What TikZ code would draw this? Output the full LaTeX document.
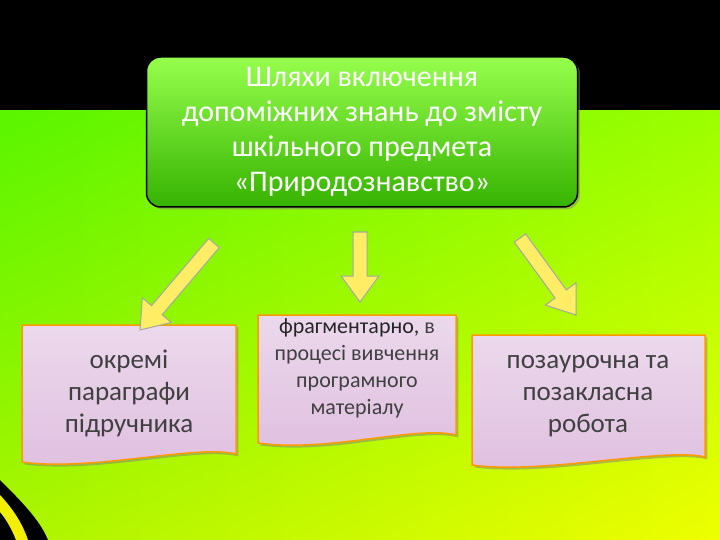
\documentclass[tikz,border=0pt]{standalone}
\usepackage{fontspec}
\setmainfont{Carlito}
\usetikzlibrary{shadows,calc}
\definecolor{boxtxt}{HTML}{404040}
\tikzset{
 docbox/.style={draw=orange!80!yellow, line width=1.5pt, top color=white!85!violet, bottom color=violet!25!white},
 barrow/.style={draw=gray!70, line width=1pt, fill=yellow!85!orange!60!white},
 boxtext/.style={text=boxtxt, align=center, font=\fontsize{27}{32}\selectfont}
}
\begin{document}
\begin{tikzpicture}[x=1pt,y=-1pt]
\useasboundingbox (0,0) rectangle (720,540);
\shade[left color=green!55!lime!90!black, right color=yellow!80!lime] (0,100) rectangle (720,540);
\shade[top color=green!50!lime, bottom color=yellow!70!lime, opacity=0.6] (0,100) rectangle (720,540);
\fill[black] (0,0) rectangle (720,110);
\fill[black] (0,480) .. controls (20,500) and (40,520) .. (48,540) -- (0,540) -- cycle;
\fill[yellow!80!lime] (0,495) .. controls (12,508) and (22,522) .. (28,540) -- (16,540) .. controls (11,527) and (5,518) .. (0,512) -- cycle;
% title
\node[draw=black, line width=1.5pt, rounded corners=14pt, minimum width=431pt, minimum height=150pt,
 top color=green!45!lime!70!white, bottom color=green!60!lime!70!black, drop shadow, text=white,
 align=center, font=\fontsize{30}{35}\selectfont] (title) at (362,132)
 {Шляхи включення\\допоміжних знань до змісту\\шкільного предмета\\«Природознавство»};
% boxes
\newcommand{\docpath}[4]{% x1 y1 x2 y2
 \path[docbox,drop shadow] (#1,#2) -- (#3,#2) -- (#3,#4-8) .. controls (#3-40,#4-18) and (#1+70,#4+10) .. (#1,#4) -- cycle;}
\docpath{22}{325}{236}{462}
\docpath{258}{315}{456}{443}
\docpath{472}{335}{705}{465}
\node[boxtext] (b1) at (129,393) {окремі\\параграфи\\підручника};
\node[text=boxtxt, align=center, font=\fontsize{22}{27}\selectfont] (b2) at (357,368)
 {\textcolor{black!85}{фрагментарно,} в\\процесі вивчення\\програмного\\матеріалу};
\node[boxtext] (b3) at (588,396) {позаурочна та\\позакласна\\робота};
% arrows
\coordinate (a1s) at (214,243); \coordinate (a1e) at (140,330);
\coordinate (a2s) at (360,232); \coordinate (a2e) at (360,302);
\coordinate (a3s) at (520,238); \coordinate (a3e) at (576,315);
\foreach \s/\e in {a1s/a1e,a2s/a2e,a3s/a3e}{
 \path[barrow] let \p1=($(\e)-(\s)$), \n1={atan2(\y1,\x1)}, \n2={veclen(\x1,\y1)} in
  [shift={(\s)}, rotate=\n1]
  (0pt,7pt) -- (\n2-26pt,7pt) -- (\n2-26pt,19pt) -- (\n2,0pt) -- (\n2-26pt,-19pt) -- (\n2-26pt,-7pt) -- (0pt,-7pt) -- cycle;
}
\end{tikzpicture}
\end{document}
